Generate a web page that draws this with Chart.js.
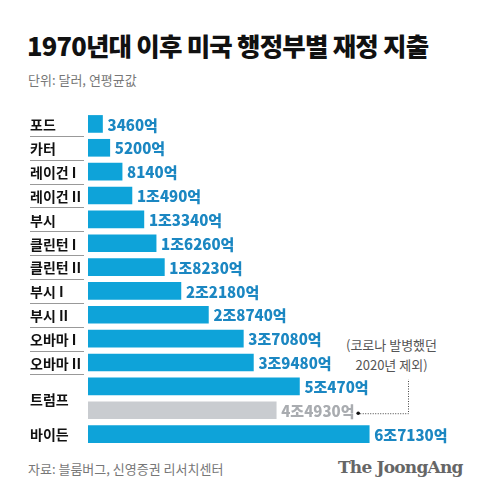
<!DOCTYPE html>
<html><head><meta charset="utf-8">
<script src="https://cdn.jsdelivr.net/npm/chart.js@4"></script>
<style>
body{margin:0;width:480px;height:498px;background:#fff;font-family:"Noto Sans CJK KR","Noto Sans",sans-serif;position:relative;overflow:hidden}
#c{position:absolute;left:0;top:0}
.t{position:absolute;white-space:nowrap}
</style></head><body>
<div class="t" style="left:27px;top:26px;font-size:25.5px;font-weight:900;color:#111;letter-spacing:-0.8px">1970년대 이후 미국 행정부별 재정 지출</div>
<div class="t" style="left:28px;top:70px;font-size:13px;color:#777">단위: 달러, 연평균값</div>
<div class="t" style="left:28px;top:459px;font-size:13px;color:#777">자료: 블룸버그, 신영증권 리서치센터</div>
<div class="t" style="left:338px;top:457px;font-size:17px;font-weight:700;color:#666;font-family:'DejaVu Serif',serif;letter-spacing:-0.8px">The JoongAng</div>
<div class="t" style="left:346px;top:335px;font-size:13px;color:#555;line-height:20px;text-align:center">(코로나 발병했던<br>2020년 제외)</div>
<canvas id="c" width="480" height="498"></canvas>
<script>
const categories=["포드","카터","레이건 I","레이건 II","부시","클린턴 I","클린턴 II","부시 I","부시 II","오바마 I","오바마 II","트럼프","트럼프*","바이든"];
const values=[0.346,0.52,0.814,1.049,1.334,1.626,1.823,2.218,2.874,3.708,3.948,5.047,4.493,6.713];
const valueLabels=["3460억","5200억","8140억","1조490억","1조3340억","1조6260억","1조8230억","2조2180억","2조8740억","3조7080억","3조9480억","5조470억","4조4930억","6조7130억"];
const BLUE="#0ea3d9",GRAY="#c9ccd0";
const colors=categories.map((c,i)=>i===12?GRAY:BLUE);
const deco={id:'deco',afterDatasetsDraw(ch){
 const ctx=ch.ctx,y=ch.scales.y,meta=ch.getDatasetMeta(0);
 ctx.save();
 meta.data.forEach((b,i)=>{
  ctx.font="900 15px 'Noto Sans CJK KR'";ctx.textBaseline='middle';
  ctx.fillStyle=i===12?"#a9acb0":"#1b87c2";ctx.textAlign='left';
  ctx.fillText(valueLabels[i],b.x+5,b.y+1);
 });
 ctx.font="bold 14px 'Noto Sans CJK KR'";ctx.fillStyle="#111";ctx.textAlign='left';
 const step=y.getPixelForValue(1)-y.getPixelForValue(0);
 categories.forEach((c,i)=>{
  if(i===12)return;
  let py=y.getPixelForValue(i);
  if(i===11)py+=step/2;
  ctx.fillText(c,30,py+1);
  if(i<13&&i!==11){ctx.strokeStyle="#999";ctx.lineWidth=1;ctx.beginPath();
   const ly=Math.round(y.getPixelForValue(i)+step/2)+0.5;
   ctx.moveTo(30,ly);ctx.lineTo(84,ly);ctx.stroke();}
 });
 const g=meta.data[12],tr=meta.data[11];
 ctx.fillStyle="#111";ctx.beginPath();ctx.arc(g.x+82,g.y+3,1.8,0,7);ctx.fill();
 ctx.strokeStyle="#444";ctx.setLineDash([1,1.5]);ctx.lineWidth=1;ctx.beginPath();
 ctx.moveTo(g.x+84,g.y+3.5);ctx.lineTo(408.5,g.y+3.5);ctx.lineTo(408.5,tr.y-7);ctx.stroke();
 ctx.restore();
}};
new Chart(document.getElementById('c'),{type:'bar',
 data:{labels:categories,datasets:[{data:values,backgroundColor:colors,barThickness:17}]},
 options:{indexAxis:'y',responsive:false,animation:false,
  layout:{padding:{left:88,right:20,top:112,bottom:52}},
  plugins:{legend:{display:false},tooltip:{enabled:false}},
  scales:{x:{display:false,min:0,max:8.88},y:{display:false}}},
 plugins:[deco]});
</script></body></html>
